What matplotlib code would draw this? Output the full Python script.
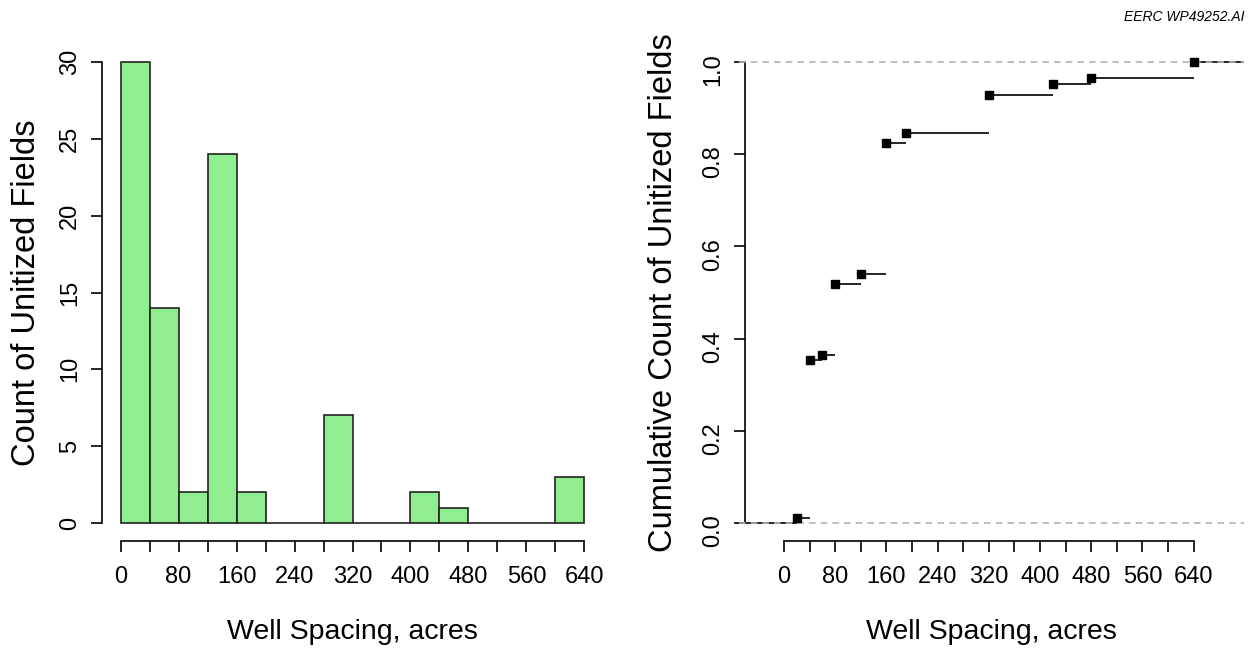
import numpy as np
import matplotlib
matplotlib.use("Agg")
import matplotlib.pyplot as plt

plt.rcParams["font.family"] = ["Liberation Sans", "DejaVu Sans"]

# histogram: 40-acre bins from 0 to 640
bin_lefts = np.arange(0, 640, 40)
bin_counts = [30, 14, 2, 24, 2, 0, 0, 7, 0, 0, 2, 1, 0, 0, 0, 3]

# distinct well spacings and how many unitized fields use each
spacing = [20, 40, 60, 80, 120, 160, 190, 320, 420, 480, 640]
n_fields = [1, 29, 1, 13, 2, 24, 2, 7, 2, 1, 3]

xticks = np.arange(0, 641, 40)
xticklabels = [str(t) if t % 80 == 0 else "" for t in xticks]

W, H = 1257, 651
fig = plt.figure(figsize=(W / 100, H / 100), dpi=100)

def rect(x0, x1, y0, y1):
    # pixel box -> figure fraction
    return [x0 / W, 1 - y1 / H, (x1 - x0) / W, (y1 - y0) / H]

tick_fs = 17
lab_fs = 20.5
ylab_fs = 23.5

def style(ax):
    for s in ["top", "right"]:
        ax.spines[s].set_visible(False)
    for s in ["left", "bottom"]:
        ax.spines[s].set_linewidth(1.2)
    ax.tick_params(axis="both", length=8, width=1.2, labelsize=tick_fs)
    ax.tick_params(axis="x", pad=10)
    ax.tick_params(axis="y", pad=7, labelrotation=90)
    for lb in ax.get_yticklabels():
        lb.set_va("center")
    ax.set_xticks(xticks)
    ax.set_xticklabels(xticklabels)
    ax.spines["bottom"].set_bounds(0, 640)

# ---- left: histogram
ax1 = fig.add_axes(rect(102, 603, 43.6, 541.4))
ax1.bar(bin_lefts, bin_counts, width=40, align="edge",
        color="#90EE90", edgecolor="#222222", linewidth=1.2)
ax1.set_xlim(-25.6, 665.6)
ax1.set_ylim(-1.2, 31.2)
ax1.set_yticks([0, 5, 10, 15, 20, 25, 30])
style(ax1)
ax1.spines["left"].set_bounds(0, 30)
ax1.set_xlabel("Well Spacing, acres", fontsize=lab_fs)
ax1.set_ylabel("Count of Unitized Fields", fontsize=ylab_fs)
ax1.xaxis.set_label_coords(0.5, -0.182)
ax1.xaxis.label.set_va("center")
ax1.yaxis.set_label_coords(-0.15, 0.5)
ax1.yaxis.label.set_va("center")

# ---- right: empirical cumulative distribution
ax2 = fig.add_axes(rect(739, 1244, 43.6, 541.4))
cum = np.cumsum(n_fields) / np.sum(n_fields)
x_lo, x_hi = -70.3, 718.75
starts = [x_lo] + spacing
ends = spacing + [x_hi]
levels = np.concatenate([[0], cum])
ax2.hlines(levels, starts, ends, colors="black", linewidth=1.2, zorder=2)
ax2.axhline(0, color="#B3B3B3", ls=(0, (4, 3)), lw=1.2, zorder=3)
ax2.axhline(1, color="#B3B3B3", ls=(0, (4, 3)), lw=1.2, zorder=3)
ax2.plot(spacing, cum, "ks", markersize=5.5, zorder=4)
ax2.set_xlim(x_lo, x_hi)
ax2.set_ylim(-0.04, 1.04)
ax2.set_yticks([0.0, 0.2, 0.4, 0.6, 0.8, 1.0])
ax2.set_yticklabels(["0.0", "0.2", "0.4", "0.6", "0.8", "1.0"])
style(ax2)
ax2.spines["left"].set_position(("data", -61))
ax2.spines["left"].set_bounds(0, 1)
ax2.set_xlabel("Well Spacing, acres", fontsize=lab_fs)
ax2.set_ylabel("Cumulative Count of Unitized Fields", fontsize=ylab_fs)
ax2.xaxis.set_label_coords(0.5, -0.182)
ax2.xaxis.label.set_va("center")
ax2.yaxis.set_label_coords(-0.15, 0.5)
ax2.yaxis.label.set_va("center")

fig.text(1245 / W, 1 - 17 / H, "EERC WP49252.AI", fontsize=10, style="italic",
         ha="right", va="center")

fig.savefig("out.png", dpi=100)
